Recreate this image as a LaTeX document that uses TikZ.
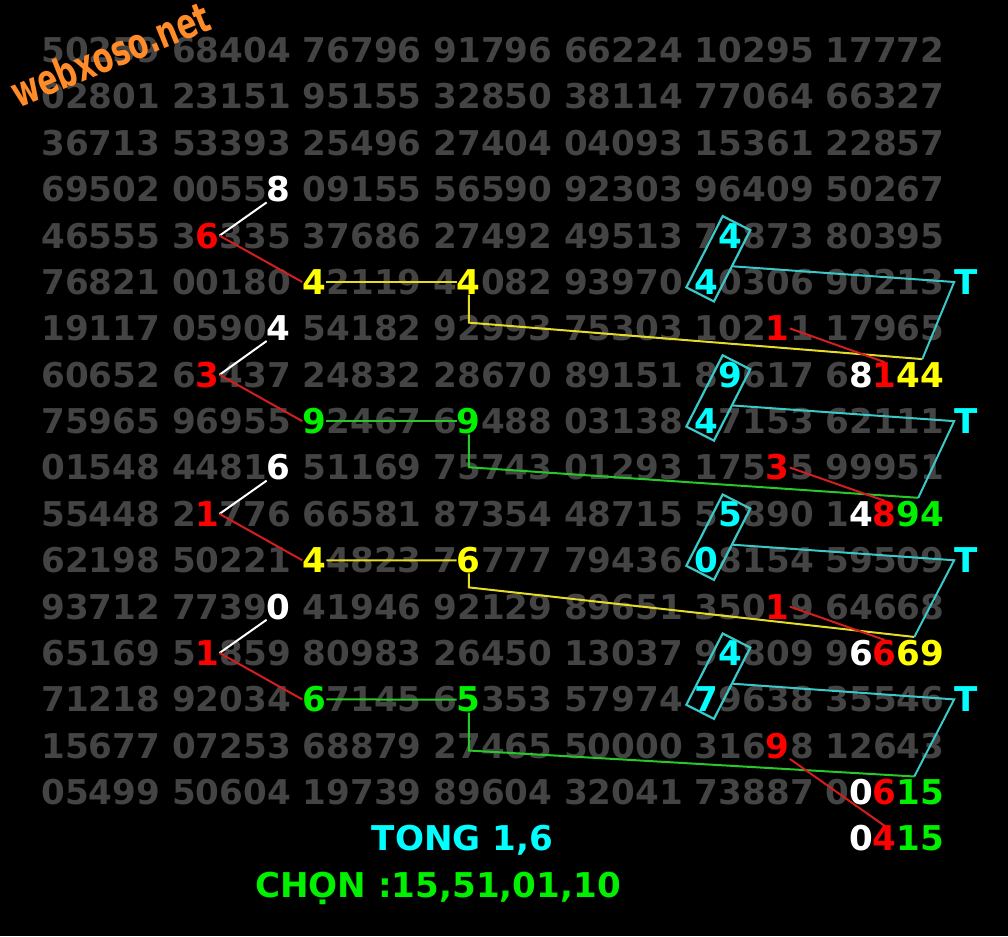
\documentclass[tikz,border=0pt]{standalone}
\usepackage{fontspec}
\usepackage{graphicx}
\usepackage{tikz}
\usetikzlibrary{calc,positioning}
\newfontfamily\dejavu{DejaVu Sans}
\newcommand{\numfont}{\dejavu\bfseries\fontsize{34.15}{40}\selectfont}
\newcommand{\hid}[1]{\phantom{#1}}
\newcommand{\colx}[2]{41.1+130.69*#1+23.76*#2+11.88}
\newcommand{\rowy}[1]{16.2+46.375*#1}
\definecolor{numgray}{RGB}{68,68,68}
\definecolor{digred}{RGB}{255,0,0}
\definecolor{digyellow}{RGB}{255,255,0}
\definecolor{diggreen}{RGB}{0,240,0}
\definecolor{digcyan}{RGB}{0,255,255}
\definecolor{lred}{RGB}{210,30,30}
\definecolor{lyellow}{RGB}{230,220,40}
\definecolor{lgreen}{RGB}{40,200,40}
\definecolor{lcyan}{RGB}{60,200,200}
\definecolor{wmorange}{RGB}{255,140,40}

\begin{document}
\begin{tikzpicture}[x=1pt,y=-1pt]
\tikzstyle{numrow}=[anchor=base west, inner sep=0pt, text=numgray, font=\numfont]
\tikzstyle{dig}=[anchor=base, inner sep=0pt, font=\numfont]
\tikzstyle{box}=[rectangle, draw=lcyan, line width=2.2pt, rotate=-27, minimum width=31pt, minimum height=80pt, inner sep=0pt]
\tikzstyle{wline}=[draw=white, line width=2pt]
\tikzstyle{rline}=[draw=lred, line width=2pt]
\tikzstyle{yline}=[draw=lyellow, line width=2pt]
\tikzstyle{gline}=[draw=lgreen, line width=2pt]
\tikzstyle{cline}=[draw=lcyan, line width=2pt]
\fill[black] (0,0) rectangle (1008,936);
\useasboundingbox (0,0) rectangle (1008,936);

	\node[numrow] (row1) at (41.1,{\rowy{1}}) {50259 68404 76796 91796 66224 10295 17772};
	\node[numrow] (row2) at (41.1,{\rowy{2}}) {02801 23151 95155 32850 38114 77064 66327};
	\node[numrow] (row3) at (41.1,{\rowy{3}}) {36713 53393 25496 27404 04093 15361 22857};
	\node[numrow] (row4) at (41.1,{\rowy{4}}) {69502 0055\hid8 09155 56590 92303 96409 50267};
	\node[numrow] (row5) at (41.1,{\rowy{5}}) {46555 3\hid6335 37686 27492 49513 7\hid4873 80395};
	\node[numrow] (row6) at (41.1,{\rowy{6}}) {76821 00180 \hid42119 4\hid4082 93970 \hid40306 90213};
	\node[numrow] (row7) at (41.1,{\rowy{7}}) {19117 0590\hid4 54182 92993 75303 102\hid11 17965};
	\node[numrow] (row8) at (41.1,{\rowy{8}}) {60652 6\hid3437 24832 28670 89151 8\hid9617 6\hid8\hid1\hid4\hid4};
	\node[numrow] (row9) at (41.1,{\rowy{9}}) {75965 96955 \hid92467 6\hid9488 03138 \hid47153 62111};
	\node[numrow] (row10) at (41.1,{\rowy{10}}) {01548 4481\hid6 51169 75743 01293 175\hid35 99951};
	\node[numrow] (row11) at (41.1,{\rowy{11}}) {55448 2\hid1776 66581 87354 48715 5\hid5890 1\hid4\hid8\hid9\hid4};
	\node[numrow] (row12) at (41.1,{\rowy{12}}) {62198 50221 \hid44823 7\hid6777 79436 \hid08154 59509};
	\node[numrow] (row13) at (41.1,{\rowy{13}}) {93712 7739\hid0 41946 92129 89651 350\hid19 64668};
	\node[numrow] (row14) at (41.1,{\rowy{14}}) {65169 5\hid1859 80983 26450 13037 9\hid4809 9\hid6\hid6\hid6\hid9};
	\node[numrow] (row15) at (41.1,{\rowy{15}}) {71218 92034 \hid67145 6\hid5353 57974 \hid79638 35546};
	\node[numrow] (row16) at (41.1,{\rowy{16}}) {15677 07253 68879 27465 50000 316\hid98 12643};
	\node[numrow] (row17) at (41.1,{\rowy{17}}) {05499 50604 19739 89604 32041 73887 0\hid0\hid6\hid1\hid5};

	\node[rotate=22, text=wmorange, font=\dejavu\bfseries\fontsize{42}{44}\selectfont] (wm) at (110,54) {\scalebox{0.7}[1]{webxoso.net}};

	% first group
	\node[dig, text=white] (w1) at ({\colx{1}{4}},{\rowy{4}}) {8};
	\node[dig, text=digred] (r1) at ({\colx{1}{1}},{\rowy{5}}) {6};
	\node[dig, text=digyellow] (h1) at ({\colx{2}{0}},{\rowy{6}}) {4};
	\node[dig, text=digyellow] (v1) at ({\colx{3}{1}},{\rowy{6}}) {4};
	\node[dig, text=digcyan] (u1) at ({\colx{5}{1}},{\rowy{5}}) {4};
	\node[dig, text=digcyan] (l1) at ({\colx{5}{0}},{\rowy{6}}) {4};
	\node[dig, text=digcyan] (t1) at (966,{\rowy{6}}) {T};
	\node[dig, text=digred] (m1) at ({\colx{5}{3}},{\rowy{7}}) {1};
	\node[dig, text=white] (e1) at ({\colx{6}{1}},{\rowy{8}}) {8};
	\node[dig, text=digred] (f1) at ({\colx{6}{2}},{\rowy{8}}) {1};
	\node[dig, text=digyellow] (p1) at ({\colx{6}{3.5}},{\rowy{8}}) {44};
	\node[box] (bx1) at ($(u1)!0.5!(l1)$) {};

	% second group
	\node[dig, text=white] (w2) at ({\colx{1}{4}},{\rowy{7}}) {4};
	\node[dig, text=digred] (r2) at ({\colx{1}{1}},{\rowy{8}}) {3};
	\node[dig, text=diggreen] (h2) at ({\colx{2}{0}},{\rowy{9}}) {9};
	\node[dig, text=diggreen] (v2) at ({\colx{3}{1}},{\rowy{9}}) {9};
	\node[dig, text=digcyan] (u2) at ({\colx{5}{1}},{\rowy{8}}) {9};
	\node[dig, text=digcyan] (l2) at ({\colx{5}{0}},{\rowy{9}}) {4};
	\node[dig, text=digcyan] (t2) at (966,{\rowy{9}}) {T};
	\node[dig, text=digred] (m2) at ({\colx{5}{3}},{\rowy{10}}) {3};
	\node[dig, text=white] (e2) at ({\colx{6}{1}},{\rowy{11}}) {4};
	\node[dig, text=digred] (f2) at ({\colx{6}{2}},{\rowy{11}}) {8};
	\node[dig, text=diggreen] (p2) at ({\colx{6}{3.5}},{\rowy{11}}) {94};
	\node[box] (bx2) at ($(u2)!0.5!(l2)$) {};

	% third group
	\node[dig, text=white] (w3) at ({\colx{1}{4}},{\rowy{10}}) {6};
	\node[dig, text=digred] (r3) at ({\colx{1}{1}},{\rowy{11}}) {1};
	\node[dig, text=digyellow] (h3) at ({\colx{2}{0}},{\rowy{12}}) {4};
	\node[dig, text=digyellow] (v3) at ({\colx{3}{1}},{\rowy{12}}) {6};
	\node[dig, text=digcyan] (u3) at ({\colx{5}{1}},{\rowy{11}}) {5};
	\node[dig, text=digcyan] (l3) at ({\colx{5}{0}},{\rowy{12}}) {0};
	\node[dig, text=digcyan] (t3) at (966,{\rowy{12}}) {T};
	\node[dig, text=digred] (m3) at ({\colx{5}{3}},{\rowy{13}}) {1};
	\node[dig, text=white] (e3) at ({\colx{6}{1}},{\rowy{14}}) {6};
	\node[dig, text=digred] (f3) at ({\colx{6}{2}},{\rowy{14}}) {6};
	\node[dig, text=digyellow] (p3) at ({\colx{6}{3.5}},{\rowy{14}}) {69};
	\node[box] (bx3) at ($(u3)!0.5!(l3)$) {};

	% fourth group
	\node[dig, text=white] (w4) at ({\colx{1}{4}},{\rowy{13}}) {0};
	\node[dig, text=digred] (r4) at ({\colx{1}{1}},{\rowy{14}}) {1};
	\node[dig, text=diggreen] (h4) at ({\colx{2}{0}},{\rowy{15}}) {6};
	\node[dig, text=diggreen] (v4) at ({\colx{3}{1}},{\rowy{15}}) {5};
	\node[dig, text=digcyan] (u4) at ({\colx{5}{1}},{\rowy{14}}) {4};
	\node[dig, text=digcyan] (l4) at ({\colx{5}{0}},{\rowy{15}}) {7};
	\node[dig, text=digcyan] (t4) at (966,{\rowy{15}}) {T};
	\node[dig, text=digred] (m4) at ({\colx{5}{3}},{\rowy{16}}) {9};
	\node[dig, text=white] (e4) at ({\colx{6}{1}},{\rowy{17}}) {0};
	\node[dig, text=digred] (f4) at ({\colx{6}{2}},{\rowy{17}}) {6};
	\node[dig, text=diggreen] (p4) at ({\colx{6}{3.5}},{\rowy{17}}) {15};
	\node[box] (bx4) at ($(u4)!0.5!(l4)$) {};
	\node[dig, text=white] (e5) at ({\colx{6}{1}},{\rowy{18}}) {0};
	\node[dig, text=digred] (f5) at ({\colx{6}{2}},{\rowy{18}}) {4};
	\node[dig, text=diggreen] (p5) at ({\colx{6}{3.5}},{\rowy{18}}) {15};

	\node[dig, text=digcyan] (tong) at (462.5,{\rowy{18}}) {TONG 1,6};
	\node[dig, text=diggreen] (chon) at (438,{\rowy{19}}) {CHỌN :15,51,01,10};

	\draw[wline] (w1.south west) -- (r1.east);
	\draw[rline] (r1.east) -- (h1.west);
	\draw[yline] (h1.east) -- (v1.west);
	\draw[yline] (v1.south) -- ++(0,28) -- ([xshift=2pt,yshift=3pt]p1.north);
	\draw[cline] (bx1.east) -- (t1.west) -- ([xshift=2pt,yshift=3pt]p1.north);
	\draw[rline] (m1.east) -- (f1.north);

	\draw[wline] (w2.south west) -- (r2.east);
	\draw[rline] (r2.east) -- (h2.west);
	\draw[gline] (h2.east) -- (v2.west);
	\draw[gline] (v2.south) -- ++(0,33) -- ([xshift=-2pt,yshift=3pt]p2.north);
	\draw[cline] (bx2.east) -- (t2.west) -- ([xshift=-2pt,yshift=3pt]p2.north);
	\draw[rline] (m2.east) -- (f2.north);

	\draw[wline] (w3.south west) -- (r3.east);
	\draw[rline] (r3.east) -- (h3.west);
	\draw[yline] (h3.east) -- (v3.west);
	\draw[yline] (v3.south) -- ++(0,14) -- ([xshift=-6pt,yshift=3pt]p3.north);
	\draw[cline] (bx3.east) -- (t3.west) -- ([xshift=-6pt,yshift=3pt]p3.north);
	\draw[rline] (m3.east) -- (f3.north);

	\draw[wline] (w4.south west) -- (r4.east);
	\draw[rline] (r4.east) -- (h4.west);
	\draw[gline] (h4.east) -- (v4.west);
	\draw[gline] (v4.south) -- ++(0,38) -- ([xshift=-6pt,yshift=3pt]p4.north);
	\draw[cline] (bx4.east) -- (t4.west) -- ([xshift=-6pt,yshift=3pt]p4.north);
	\draw[rline] (m4.south east) -- (f5.north);
\end{tikzpicture}
\end{document}
